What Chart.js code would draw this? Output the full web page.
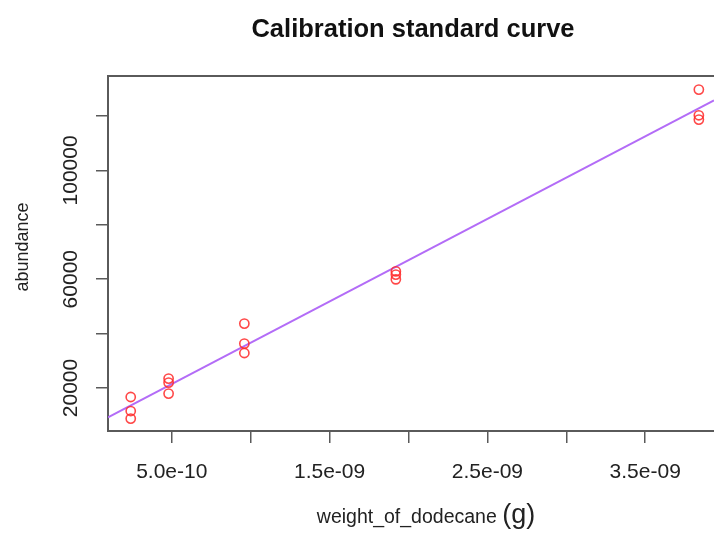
<!DOCTYPE html>
<html>
<head>
<meta charset="utf-8">
<script src="https://cdn.jsdelivr.net/npm/chart.js@4.4.1/dist/chart.umd.min.js"></script>
<style>
    html, body { margin: 0; padding: 0; background: #fff; overflow: hidden; }
    #wrap { width: 714px; height: 534px; position: relative; }
</style>
</head>
<body>
<div id="wrap"><canvas id="chart"></canvas></div>
<script>
// Weights of dodecane (g), three replicate injections each
const weights = [2.4e-10, 4.8e-10, 9.6e-10, 1.92e-9, 3.84e-9];
const rep1 = [16690, 23460, 43680, 62900, 129700];
const rep2 = [11540, 21990, 36320, 61690, 120260];
const rep3 = [8750, 17940, 32870, 59960, 118680];

// fitted line (lm)
const fitIntercept = 6300;
const fitSlope = 3.035e13;

// axis ticks and the labels R chose to print
const xTicks = [5e-10, 1e-9, 1.5e-9, 2e-9, 2.5e-9, 3e-9, 3.5e-9];
const xLabelValues = [5e-10, 1.5e-9, 2.5e-9, 3.5e-9];
const xLabelText = ["5.0e-10", "1.5e-09", "2.5e-09", "3.5e-09"];
const yTicks = [20000, 40000, 60000, 80000, 100000, 120000];
const yLabelValues = [20000, 60000, 100000];

const xMin = 0.96e-10, xMax = 3.936e-9;
const yMin = 4200, yMax = 134700;

const points = [];
[rep1, rep2, rep3].forEach(rep => {
    rep.forEach((v, i) => points.push({ x: weights[i], y: v }));
});

const fitLine = [
    { x: xMin, y: fitIntercept + fitSlope * xMin },
    { x: xMax, y: fitIntercept + fitSlope * xMax }
];

const FONT = "'Liberation Sans', Arial, Helvetica, sans-serif";

// R style text + top border of the box
const rDecor = {
    id: "rDecor",
    afterDraw(chart) {
        const ctx = chart.ctx;
        const area = chart.chartArea;
        const xs = chart.scales.x;
        const ys = chart.scales.y;
        ctx.save();

        // top border (right side falls outside the picture)
        ctx.strokeStyle = "#5a5a5a";
        ctx.lineWidth = 2;
        ctx.beginPath();
        ctx.moveTo(area.left - 1, area.top);
        ctx.lineTo(area.right, area.top);
        ctx.stroke();

        // title
        ctx.fillStyle = "#111";
        ctx.font = "bold 25.5px " + FONT;
        ctx.textAlign = "center";
        ctx.textBaseline = "alphabetic";
        ctx.fillText("Calibration standard curve", 413, 36.5);

        // x tick labels
        ctx.fillStyle = "#222";
        ctx.font = "21px " + FONT;
        xLabelValues.forEach((v, i) => {
            ctx.fillText(xLabelText[i], xs.getPixelForValue(v), 478);
        });

        // y tick labels, rotated like R's las=0
        yLabelValues.forEach(v => {
            ctx.save();
            ctx.translate(77, ys.getPixelForValue(v));
            ctx.rotate(-Math.PI / 2);
            ctx.fillText(String(v), 0, 0);
            ctx.restore();
        });

        // y axis title
        ctx.save();
        ctx.font = "18px " + FONT;
        ctx.translate(28, 247);
        ctx.rotate(-Math.PI / 2);
        ctx.fillText("abundance", 0, 0);
        ctx.restore();

        // x axis title with a bigger unit
        const part1 = "weight_of_dodecane ";
        const part2 = "(g)";
        ctx.font = "19.5px " + FONT;
        const w1 = ctx.measureText(part1).width;
        ctx.font = "27px " + FONT;
        const w2 = ctx.measureText(part2).width;
        const startX = 426 - (w1 + w2) / 2;
        ctx.textAlign = "left";
        ctx.font = "19.5px " + FONT;
        ctx.fillText(part1, startX, 523);
        ctx.font = "27px " + FONT;
        ctx.fillText(part2, startX + w1, 523);

        ctx.restore();
    }
};

new Chart(document.getElementById("chart").getContext("2d"), {
    type: "scatter",
    data: {
        datasets: [
            {
                label: "fit",
                type: "line",
                data: fitLine,
                borderColor: "#b36cf7",
                borderWidth: 2,
                pointRadius: 0,
                fill: false,
                order: 2
            },
            {
                label: "abundance",
                data: points,
                pointStyle: "circle",
                pointRadius: 4.6,
                pointBorderWidth: 1.6,
                pointBorderColor: "rgba(255, 40, 40, 0.85)",
                pointBackgroundColor: "rgba(0,0,0,0)",
                clip: false,
                order: 1
            }
        ]
    },
    options: {
        responsive: true,
        maintainAspectRatio: false,
        animation: false,
        layout: { autoPadding: false, padding: { left: 96, top: 76, right: 0, bottom: 91 } },
        plugins: {
            legend: { display: false },
            tooltip: { enabled: false },
            title: { display: false }
        },
        scales: {
            x: {
                type: "linear",
                min: xMin,
                max: xMax,
                afterBuildTicks: scale => { scale.ticks = xTicks.map(v => ({ value: v })); },
                ticks: { display: false },
                grid: { drawOnChartArea: false, drawTicks: true, tickLength: 12, color: "#5a5a5a", lineWidth: 1.5 },
                border: { display: true, color: "#5a5a5a", width: 2 }
            },
            y: {
                type: "linear",
                min: yMin,
                max: yMax,
                afterBuildTicks: scale => { scale.ticks = yTicks.map(v => ({ value: v })); },
                ticks: { display: false },
                grid: { drawOnChartArea: false, drawTicks: true, tickLength: 12, color: "#5a5a5a", lineWidth: 1.5 },
                border: { display: true, color: "#5a5a5a", width: 2 }
            }
        }
    },
    plugins: [rDecor]
});
</script>
</body>
</html>
